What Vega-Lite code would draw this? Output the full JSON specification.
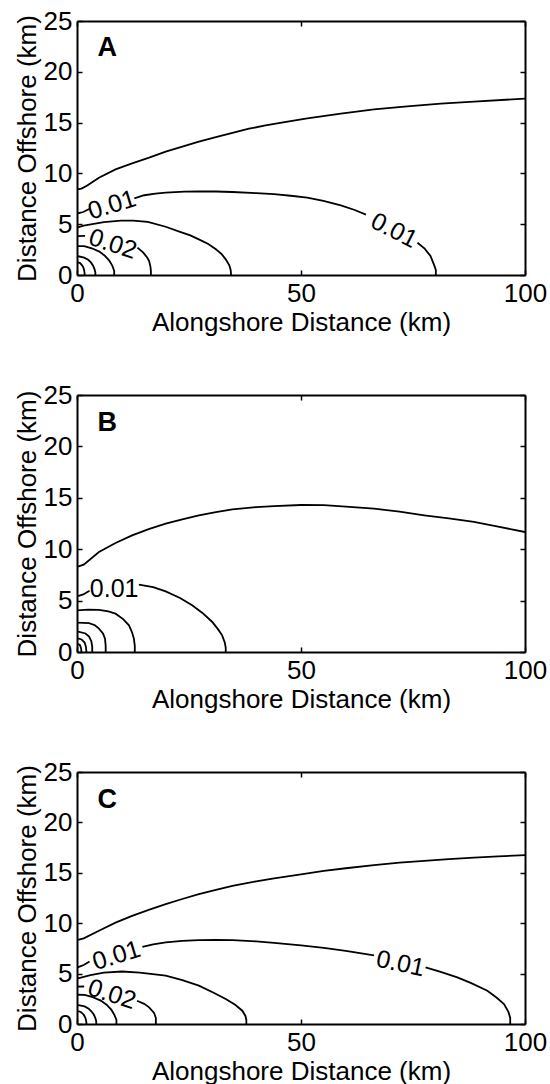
{
  "$schema": "https://vega.github.io/schema/vega-lite/v6.json",
  "background": "white",
  "padding": {"left": 14, "top": 8, "right": 2, "bottom": 2},
  "spacing": 120,
  "bounds": "flush",
  "config": {
    "font": "Liberation Sans",
    "view": {"stroke": null},
    "axis": {
      "grid": false,
      "labelFont": "Liberation Sans",
      "labelFontSize": 26,
      "labelColor": "black",
      "labelFlush": false,
      "labelOverlap": false,
      "labelPadding": 10,
      "titleFont": "Liberation Sans",
      "titleFontSize": 26,
      "titleFontWeight": "normal",
      "titleColor": "black",
      "domainColor": "black",
      "domainWidth": 2,
      "tickColor": "black",
      "tickWidth": 1.5,
      "tickSize": -5
    }
  },
  "datasets": {
    "contours": [
      {"panel": "A", "seg": "A1", "x": 0, "y": 8.43}, {"panel": "A", "seg": "A1", "x": 1, "y": 8.5}, {"panel": "A", "seg": "A1", "x": 2.2, "y": 8.78}, {"panel": "A", "seg": "A1", "x": 4.9, "y": 9.58}, {"panel": "A", "seg": "A1", "x": 8.6, "y": 10.4}, {"panel": "A", "seg": "A1", "x": 12.3, "y": 10.99}, {"panel": "A", "seg": "A1", "x": 16.1, "y": 11.55}, {"panel": "A", "seg": "A1", "x": 19.8, "y": 12.14}, {"panel": "A", "seg": "A1", "x": 23.5, "y": 12.63}, {"panel": "A", "seg": "A1", "x": 27.2, "y": 13.12}, {"panel": "A", "seg": "A1", "x": 31, "y": 13.58}, {"panel": "A", "seg": "A1", "x": 34.7, "y": 14.0}, {"panel": "A", "seg": "A1", "x": 38.4, "y": 14.4}, {"panel": "A", "seg": "A1", "x": 42.1, "y": 14.72}, {"panel": "A", "seg": "A1", "x": 46, "y": 15.02}, {"panel": "A", "seg": "A1", "x": 51.4, "y": 15.42}, {"panel": "A", "seg": "A1", "x": 58.9, "y": 15.88}, {"panel": "A", "seg": "A1", "x": 66.3, "y": 16.3}, {"panel": "A", "seg": "A1", "x": 73.7, "y": 16.6}, {"panel": "A", "seg": "A1", "x": 81.2, "y": 16.86}, {"panel": "A", "seg": "A1", "x": 88.6, "y": 17.06}, {"panel": "A", "seg": "A1", "x": 100, "y": 17.36},
      {"panel": "A", "seg": "A2a", "x": 0, "y": 6.05}, {"panel": "A", "seg": "A2a", "x": 1.4, "y": 6.2}, {"panel": "A", "seg": "A2a", "x": 2.7, "y": 6.5},
      {"panel": "A", "seg": "A2b", "x": 12.8, "y": 7.55}, {"panel": "A", "seg": "A2b", "x": 15, "y": 7.85}, {"panel": "A", "seg": "A2b", "x": 17.5, "y": 8.0}, {"panel": "A", "seg": "A2b", "x": 19.8, "y": 8.1}, {"panel": "A", "seg": "A2b", "x": 24, "y": 8.2}, {"panel": "A", "seg": "A2b", "x": 27.2, "y": 8.22}, {"panel": "A", "seg": "A2b", "x": 31, "y": 8.22}, {"panel": "A", "seg": "A2b", "x": 34.7, "y": 8.17}, {"panel": "A", "seg": "A2b", "x": 40, "y": 8.05}, {"panel": "A", "seg": "A2b", "x": 44, "y": 7.97}, {"panel": "A", "seg": "A2b", "x": 47.7, "y": 7.8}, {"panel": "A", "seg": "A2b", "x": 51.4, "y": 7.61}, {"panel": "A", "seg": "A2b", "x": 55, "y": 7.3}, {"panel": "A", "seg": "A2b", "x": 58.9, "y": 6.86}, {"panel": "A", "seg": "A2b", "x": 62, "y": 6.4}, {"panel": "A", "seg": "A2b", "x": 64.5, "y": 5.95},
      {"panel": "A", "seg": "A2c", "x": 76, "y": 3.18}, {"panel": "A", "seg": "A2c", "x": 77.6, "y": 2.6}, {"panel": "A", "seg": "A2c", "x": 78.9, "y": 1.87}, {"panel": "A", "seg": "A2c", "x": 79.7, "y": 1.0}, {"panel": "A", "seg": "A2c", "x": 80.1, "y": 0.5}, {"panel": "A", "seg": "A2c", "x": 80.1, "y": 0},
      {"panel": "A", "seg": "A3", "x": 0, "y": 4.66}, {"panel": "A", "seg": "A3", "x": 1.5, "y": 4.85}, {"panel": "A", "seg": "A3", "x": 3.1, "y": 4.99}, {"panel": "A", "seg": "A3", "x": 6, "y": 5.2}, {"panel": "A", "seg": "A3", "x": 9.8, "y": 5.36}, {"panel": "A", "seg": "A3", "x": 12.5, "y": 5.36}, {"panel": "A", "seg": "A3", "x": 15.8, "y": 5.22}, {"panel": "A", "seg": "A3", "x": 19.8, "y": 4.75}, {"panel": "A", "seg": "A3", "x": 23, "y": 4.25}, {"panel": "A", "seg": "A3", "x": 25.3, "y": 3.9}, {"panel": "A", "seg": "A3", "x": 27.2, "y": 3.51}, {"panel": "A", "seg": "A3", "x": 29.3, "y": 3.05}, {"panel": "A", "seg": "A3", "x": 31, "y": 2.53}, {"panel": "A", "seg": "A3", "x": 32.3, "y": 2.05}, {"panel": "A", "seg": "A3", "x": 33.2, "y": 1.54}, {"panel": "A", "seg": "A3", "x": 34.0, "y": 0.95}, {"panel": "A", "seg": "A3", "x": 34.3, "y": 0.5}, {"panel": "A", "seg": "A3", "x": 34.4, "y": 0},
      {"panel": "A", "seg": "A4a", "x": 0, "y": 3.82}, {"panel": "A", "seg": "A4a", "x": 1.8, "y": 3.85},
      {"panel": "A", "seg": "A4b", "x": 13.5, "y": 2.69}, {"panel": "A", "seg": "A4b", "x": 14.8, "y": 2.2}, {"panel": "A", "seg": "A4b", "x": 15.7, "y": 1.7}, {"panel": "A", "seg": "A4b", "x": 16.1, "y": 1.38}, {"panel": "A", "seg": "A4b", "x": 16.4, "y": 0.8}, {"panel": "A", "seg": "A4b", "x": 16.5, "y": 0.4}, {"panel": "A", "seg": "A4b", "x": 16.5, "y": 0},
      {"panel": "A", "seg": "A5", "x": 0, "y": 2.85}, {"panel": "A", "seg": "A5", "x": 1.6, "y": 2.85}, {"panel": "A", "seg": "A5", "x": 3.3, "y": 2.63}, {"panel": "A", "seg": "A5", "x": 5.0, "y": 2.3}, {"panel": "A", "seg": "A5", "x": 6.2, "y": 1.9}, {"panel": "A", "seg": "A5", "x": 7.2, "y": 1.42}, {"panel": "A", "seg": "A5", "x": 7.9, "y": 0.9}, {"panel": "A", "seg": "A5", "x": 8.3, "y": 0.4}, {"panel": "A", "seg": "A5", "x": 8.3, "y": 0},
      {"panel": "A", "seg": "A6", "x": 0, "y": 1.87}, {"panel": "A", "seg": "A6", "x": 1.6, "y": 1.71}, {"panel": "A", "seg": "A6", "x": 2.5, "y": 1.5}, {"panel": "A", "seg": "A6", "x": 3.1, "y": 1.24}, {"panel": "A", "seg": "A6", "x": 3.6, "y": 0.92}, {"panel": "A", "seg": "A6", "x": 3.9, "y": 0.58}, {"panel": "A", "seg": "A6", "x": 4.1, "y": 0.25}, {"panel": "A", "seg": "A6", "x": 4.1, "y": 0},
      {"panel": "A", "seg": "A7", "x": 0, "y": 1.28}, {"panel": "A", "seg": "A7", "x": 0.7, "y": 1.17}, {"panel": "A", "seg": "A7", "x": 1.0, "y": 1.02}, {"panel": "A", "seg": "A7", "x": 1.3, "y": 0.85}, {"panel": "A", "seg": "A7", "x": 1.5, "y": 0.63}, {"panel": "A", "seg": "A7", "x": 1.62, "y": 0.4}, {"panel": "A", "seg": "A7", "x": 1.7, "y": 0.15}, {"panel": "A", "seg": "A7", "x": 1.7, "y": 0},

      {"panel": "B", "seg": "B1", "x": 0, "y": 8.27}, {"panel": "B", "seg": "B1", "x": 1.5, "y": 8.5}, {"panel": "B", "seg": "B1", "x": 4.9, "y": 9.73}, {"panel": "B", "seg": "B1", "x": 8.6, "y": 10.6}, {"panel": "B", "seg": "B1", "x": 12.3, "y": 11.35}, {"panel": "B", "seg": "B1", "x": 16, "y": 11.95}, {"panel": "B", "seg": "B1", "x": 19.8, "y": 12.48}, {"panel": "B", "seg": "B1", "x": 23.5, "y": 12.9}, {"panel": "B", "seg": "B1", "x": 27.2, "y": 13.3}, {"panel": "B", "seg": "B1", "x": 31, "y": 13.6}, {"panel": "B", "seg": "B1", "x": 34.7, "y": 13.88}, {"panel": "B", "seg": "B1", "x": 40, "y": 14.1}, {"panel": "B", "seg": "B1", "x": 44, "y": 14.2}, {"panel": "B", "seg": "B1", "x": 50, "y": 14.3}, {"panel": "B", "seg": "B1", "x": 55.1, "y": 14.28}, {"panel": "B", "seg": "B1", "x": 60, "y": 14.15}, {"panel": "B", "seg": "B1", "x": 66.3, "y": 13.94}, {"panel": "B", "seg": "B1", "x": 72, "y": 13.65}, {"panel": "B", "seg": "B1", "x": 77.5, "y": 13.3}, {"panel": "B", "seg": "B1", "x": 83, "y": 13.0}, {"panel": "B", "seg": "B1", "x": 88.6, "y": 12.65}, {"panel": "B", "seg": "B1", "x": 94, "y": 12.2}, {"panel": "B", "seg": "B1", "x": 100, "y": 11.67},
      {"panel": "B", "seg": "B2a", "x": 0, "y": 5.4}, {"panel": "B", "seg": "B2a", "x": 1.4, "y": 5.6}, {"panel": "B", "seg": "B2a", "x": 2.8, "y": 5.95},
      {"panel": "B", "seg": "B2b", "x": 13.8, "y": 6.55}, {"panel": "B", "seg": "B2b", "x": 17, "y": 6.3}, {"panel": "B", "seg": "B2b", "x": 19.8, "y": 5.9}, {"panel": "B", "seg": "B2b", "x": 23, "y": 5.25}, {"panel": "B", "seg": "B2b", "x": 25.7, "y": 4.54}, {"panel": "B", "seg": "B2b", "x": 28, "y": 3.8}, {"panel": "B", "seg": "B2b", "x": 30.2, "y": 2.92}, {"panel": "B", "seg": "B2b", "x": 31.5, "y": 2.2}, {"panel": "B", "seg": "B2b", "x": 32.4, "y": 1.62}, {"panel": "B", "seg": "B2b", "x": 33.0, "y": 0.9}, {"panel": "B", "seg": "B2b", "x": 33.2, "y": 0.4}, {"panel": "B", "seg": "B2b", "x": 33.2, "y": 0},
      {"panel": "B", "seg": "B3", "x": 0, "y": 4.05}, {"panel": "B", "seg": "B3", "x": 2.5, "y": 4.12}, {"panel": "B", "seg": "B3", "x": 4.9, "y": 4.1}, {"panel": "B", "seg": "B3", "x": 7, "y": 3.95}, {"panel": "B", "seg": "B3", "x": 8.6, "y": 3.73}, {"panel": "B", "seg": "B3", "x": 10.3, "y": 3.2}, {"panel": "B", "seg": "B3", "x": 11.6, "y": 2.6}, {"panel": "B", "seg": "B3", "x": 12.3, "y": 1.9}, {"panel": "B", "seg": "B3", "x": 12.7, "y": 1.3}, {"panel": "B", "seg": "B3", "x": 12.9, "y": 0.6}, {"panel": "B", "seg": "B3", "x": 12.9, "y": 0},
      {"panel": "B", "seg": "B4", "x": 0, "y": 2.85}, {"panel": "B", "seg": "B4", "x": 2.7, "y": 2.8}, {"panel": "B", "seg": "B4", "x": 4.0, "y": 2.6}, {"panel": "B", "seg": "B4", "x": 4.9, "y": 2.27}, {"panel": "B", "seg": "B4", "x": 5.8, "y": 1.8}, {"panel": "B", "seg": "B4", "x": 6.25, "y": 1.3}, {"panel": "B", "seg": "B4", "x": 6.4, "y": 0.6}, {"panel": "B", "seg": "B4", "x": 6.4, "y": 0},
      {"panel": "B", "seg": "B5", "x": 0, "y": 2.0}, {"panel": "B", "seg": "B5", "x": 1.9, "y": 1.8}, {"panel": "B", "seg": "B5", "x": 2.7, "y": 1.5}, {"panel": "B", "seg": "B5", "x": 3.2, "y": 1.05}, {"panel": "B", "seg": "B5", "x": 3.4, "y": 0.5}, {"panel": "B", "seg": "B5", "x": 3.4, "y": 0},
      {"panel": "B", "seg": "B6", "x": 0, "y": 1.36}, {"panel": "B", "seg": "B6", "x": 1.0, "y": 1.22}, {"panel": "B", "seg": "B6", "x": 1.7, "y": 0.92}, {"panel": "B", "seg": "B6", "x": 2.0, "y": 0.5}, {"panel": "B", "seg": "B6", "x": 2.1, "y": 0},
      {"panel": "B", "seg": "B7", "x": 0, "y": 0.8}, {"panel": "B", "seg": "B7", "x": 0.6, "y": 0.7}, {"panel": "B", "seg": "B7", "x": 0.9, "y": 0.4}, {"panel": "B", "seg": "B7", "x": 1.0, "y": 0},

      {"panel": "C", "seg": "C1", "x": 0, "y": 8.32}, {"panel": "C", "seg": "C1", "x": 1.5, "y": 8.5}, {"panel": "C", "seg": "C1", "x": 4.9, "y": 9.25}, {"panel": "C", "seg": "C1", "x": 8.6, "y": 10.05}, {"panel": "C", "seg": "C1", "x": 12.3, "y": 10.73}, {"panel": "C", "seg": "C1", "x": 16, "y": 11.33}, {"panel": "C", "seg": "C1", "x": 19.8, "y": 11.89}, {"panel": "C", "seg": "C1", "x": 23.5, "y": 12.4}, {"panel": "C", "seg": "C1", "x": 27.2, "y": 12.88}, {"panel": "C", "seg": "C1", "x": 31, "y": 13.3}, {"panel": "C", "seg": "C1", "x": 34.7, "y": 13.7}, {"panel": "C", "seg": "C1", "x": 40, "y": 14.15}, {"panel": "C", "seg": "C1", "x": 44, "y": 14.45}, {"panel": "C", "seg": "C1", "x": 50, "y": 14.85}, {"panel": "C", "seg": "C1", "x": 55.1, "y": 15.19}, {"panel": "C", "seg": "C1", "x": 60, "y": 15.45}, {"panel": "C", "seg": "C1", "x": 66.3, "y": 15.76}, {"panel": "C", "seg": "C1", "x": 72, "y": 16.0}, {"panel": "C", "seg": "C1", "x": 77.5, "y": 16.18}, {"panel": "C", "seg": "C1", "x": 83, "y": 16.35}, {"panel": "C", "seg": "C1", "x": 88.6, "y": 16.51}, {"panel": "C", "seg": "C1", "x": 94, "y": 16.63}, {"panel": "C", "seg": "C1", "x": 100, "y": 16.75},
      {"panel": "C", "seg": "C2a", "x": 0, "y": 5.6}, {"panel": "C", "seg": "C2a", "x": 1.5, "y": 5.85}, {"panel": "C", "seg": "C2a", "x": 2.8, "y": 6.2},
      {"panel": "C", "seg": "C2b", "x": 14.6, "y": 7.66}, {"panel": "C", "seg": "C2b", "x": 17, "y": 7.9}, {"panel": "C", "seg": "C2b", "x": 19.8, "y": 8.09}, {"panel": "C", "seg": "C2b", "x": 23.5, "y": 8.25}, {"panel": "C", "seg": "C2b", "x": 27.2, "y": 8.32}, {"panel": "C", "seg": "C2b", "x": 31, "y": 8.34}, {"panel": "C", "seg": "C2b", "x": 34.7, "y": 8.32}, {"panel": "C", "seg": "C2b", "x": 40, "y": 8.2}, {"panel": "C", "seg": "C2b", "x": 44, "y": 8.05}, {"panel": "C", "seg": "C2b", "x": 50, "y": 7.8}, {"panel": "C", "seg": "C2b", "x": 55.1, "y": 7.55}, {"panel": "C", "seg": "C2b", "x": 60, "y": 7.25}, {"panel": "C", "seg": "C2b", "x": 63.5, "y": 7.0}, {"panel": "C", "seg": "C2b", "x": 66.3, "y": 6.8},
      {"panel": "C", "seg": "C2c", "x": 77.8, "y": 5.61}, {"panel": "C", "seg": "C2c", "x": 81, "y": 5.2}, {"panel": "C", "seg": "C2c", "x": 84.9, "y": 4.62}, {"panel": "C", "seg": "C2c", "x": 88, "y": 4.05}, {"panel": "C", "seg": "C2c", "x": 91.6, "y": 3.3}, {"panel": "C", "seg": "C2c", "x": 93.7, "y": 2.6}, {"panel": "C", "seg": "C2c", "x": 95.3, "y": 1.98}, {"panel": "C", "seg": "C2c", "x": 96.3, "y": 1.2}, {"panel": "C", "seg": "C2c", "x": 96.7, "y": 0.6}, {"panel": "C", "seg": "C2c", "x": 96.7, "y": 0},
      {"panel": "C", "seg": "C3", "x": 0, "y": 4.5}, {"panel": "C", "seg": "C3", "x": 3, "y": 4.85}, {"panel": "C", "seg": "C3", "x": 6, "y": 5.1}, {"panel": "C", "seg": "C3", "x": 10.1, "y": 5.21}, {"panel": "C", "seg": "C3", "x": 14, "y": 5.1}, {"panel": "C", "seg": "C3", "x": 19.8, "y": 4.79}, {"panel": "C", "seg": "C3", "x": 23.5, "y": 4.35}, {"panel": "C", "seg": "C3", "x": 27.2, "y": 3.8}, {"panel": "C", "seg": "C3", "x": 30.5, "y": 3.1}, {"panel": "C", "seg": "C3", "x": 33.2, "y": 2.48}, {"panel": "C", "seg": "C3", "x": 35.3, "y": 1.9}, {"panel": "C", "seg": "C3", "x": 36.9, "y": 1.32}, {"panel": "C", "seg": "C3", "x": 37.6, "y": 0.8}, {"panel": "C", "seg": "C3", "x": 37.8, "y": 0.4}, {"panel": "C", "seg": "C3", "x": 37.8, "y": 0},
      {"panel": "C", "seg": "C4a", "x": 0, "y": 3.7}, {"panel": "C", "seg": "C4a", "x": 1.6, "y": 3.72},
      {"panel": "C", "seg": "C4b", "x": 13.4, "y": 2.31}, {"panel": "C", "seg": "C4b", "x": 15, "y": 2.0}, {"panel": "C", "seg": "C4b", "x": 16.1, "y": 1.65}, {"panel": "C", "seg": "C4b", "x": 17.2, "y": 1.1}, {"panel": "C", "seg": "C4b", "x": 17.6, "y": 0.6}, {"panel": "C", "seg": "C4b", "x": 17.6, "y": 0},
      {"panel": "C", "seg": "C5", "x": 0, "y": 2.9}, {"panel": "C", "seg": "C5", "x": 1.7, "y": 2.88}, {"panel": "C", "seg": "C5", "x": 3.5, "y": 2.66}, {"panel": "C", "seg": "C5", "x": 5.3, "y": 2.32}, {"panel": "C", "seg": "C5", "x": 6.6, "y": 1.92}, {"panel": "C", "seg": "C5", "x": 7.65, "y": 1.43}, {"panel": "C", "seg": "C5", "x": 8.35, "y": 0.9}, {"panel": "C", "seg": "C5", "x": 8.8, "y": 0.4}, {"panel": "C", "seg": "C5", "x": 8.8, "y": 0},
      {"panel": "C", "seg": "C6", "x": 0, "y": 1.9}, {"panel": "C", "seg": "C6", "x": 1.7, "y": 1.74}, {"panel": "C", "seg": "C6", "x": 2.6, "y": 1.52}, {"panel": "C", "seg": "C6", "x": 3.2, "y": 1.26}, {"panel": "C", "seg": "C6", "x": 3.75, "y": 0.94}, {"panel": "C", "seg": "C6", "x": 4.1, "y": 0.59}, {"panel": "C", "seg": "C6", "x": 4.3, "y": 0.25}, {"panel": "C", "seg": "C6", "x": 4.3, "y": 0},
      {"panel": "C", "seg": "C7", "x": 0, "y": 1.3}, {"panel": "C", "seg": "C7", "x": 0.84, "y": 1.19}, {"panel": "C", "seg": "C7", "x": 1.26, "y": 1.04}, {"panel": "C", "seg": "C7", "x": 1.58, "y": 0.86}, {"panel": "C", "seg": "C7", "x": 1.83, "y": 0.64}, {"panel": "C", "seg": "C7", "x": 2.0, "y": 0.41}, {"panel": "C", "seg": "C7", "x": 2.1, "y": 0.15}, {"panel": "C", "seg": "C7", "x": 2.1, "y": 0}
    ],
    "labels": [
      {"id": "A1", "x": 7.8, "y": 6.9, "text": "0.01"},
      {"id": "A2", "x": 70.8, "y": 4.4, "text": "0.01"},
      {"id": "A3", "x": 8.0, "y": 3.05, "text": "0.02"},
      {"id": "B1", "x": 8.3, "y": 6.15, "text": "0.01"},
      {"id": "C1", "x": 8.8, "y": 6.8, "text": "0.01"},
      {"id": "C2", "x": 72.2, "y": 6.0, "text": "0.01"},
      {"id": "C3", "x": 7.8, "y": 2.95, "text": "0.02"}
    ],
    "letters": [
      {"panel": "A", "x": 4.6, "y": 21.6, "text": "A"},
      {"panel": "B", "x": 4.6, "y": 21.5, "text": "B"},
      {"panel": "C", "x": 4.6, "y": 21.4, "text": "C"}
    ]
  },
  "vconcat": [
    {
      "width": 448,
      "height": 254,
      "resolve": {"axis": {"x": "independent", "y": "independent"}},
      "layer": [
        {
          "data": {"name": "contours"},
          "transform": [{"filter": "datum.panel == 'A'"}],
          "mark": {"type": "line", "color": "black", "strokeWidth": 1.8, "clip": true},
          "encoding": {
            "x": {"field": "x", "type": "quantitative", "scale": {"domain": [0, 100], "nice": false, "zero": false}, "axis": {"orient": "bottom", "values": [0, 50, 100], "title": "Alongshore Distance (km)", "titlePadding": 3}},
            "y": {"field": "y", "type": "quantitative", "scale": {"domain": [0, 25], "nice": false}, "axis": {"orient": "left", "values": [0, 5, 10, 15, 20, 25], "title": "Distance Offshore (km)", "titlePadding": 3}},
            "detail": {"field": "seg"},
            "order": {"value": null}
          }
        },
        {
          "data": {"name": "labels"},
          "transform": [{"filter": "datum.id == 'A1'"}],
          "mark": {"type": "text", "fontSize": 25, "angle": -17, "align": "center", "baseline": "middle", "color": "black"},
          "encoding": {"x": {"field": "x", "type": "quantitative", "axis": null}, "y": {"field": "y", "type": "quantitative", "axis": null}, "text": {"field": "text"}}
        },
        {
          "data": {"name": "labels"},
          "transform": [{"filter": "datum.id == 'A2'"}],
          "mark": {"type": "text", "fontSize": 25, "angle": 27, "align": "center", "baseline": "middle", "color": "black"},
          "encoding": {"x": {"field": "x", "type": "quantitative", "axis": null}, "y": {"field": "y", "type": "quantitative", "axis": null}, "text": {"field": "text"}}
        },
        {
          "data": {"name": "labels"},
          "transform": [{"filter": "datum.id == 'A3'"}],
          "mark": {"type": "text", "fontSize": 25, "angle": 18, "align": "center", "baseline": "middle", "color": "black"},
          "encoding": {"x": {"field": "x", "type": "quantitative", "axis": null}, "y": {"field": "y", "type": "quantitative", "axis": null}, "text": {"field": "text"}}
        },
        {
          "data": {"name": "letters"},
          "transform": [{"filter": "datum.panel == 'A'"}],
          "mark": {"type": "text", "fontSize": 27, "fontWeight": "bold", "align": "left", "baseline": "alphabetic", "color": "black"},
          "encoding": {
            "x": {"field": "x", "type": "quantitative", "axis": {"orient": "top", "values": [0, 50, 100], "labels": false, "title": null}},
            "y": {"field": "y", "type": "quantitative", "axis": {"orient": "right", "values": [0, 5, 10, 15, 20, 25], "labels": false, "title": null}},
            "text": {"field": "text"}
          }
        }
      ]
    },
    {
      "width": 448,
      "height": 257,
      "resolve": {"axis": {"x": "independent", "y": "independent"}},
      "layer": [
        {
          "data": {"name": "contours"},
          "transform": [{"filter": "datum.panel == 'B'"}],
          "mark": {"type": "line", "color": "black", "strokeWidth": 1.8, "clip": true},
          "encoding": {
            "x": {"field": "x", "type": "quantitative", "scale": {"domain": [0, 100], "nice": false, "zero": false}, "axis": {"orient": "bottom", "values": [0, 50, 100], "title": "Alongshore Distance (km)", "titlePadding": 3}},
            "y": {"field": "y", "type": "quantitative", "scale": {"domain": [0, 25], "nice": false}, "axis": {"orient": "left", "values": [0, 5, 10, 15, 20, 25], "title": "Distance Offshore (km)", "titlePadding": 3}},
            "detail": {"field": "seg"},
            "order": {"value": null}
          }
        },
        {
          "data": {"name": "labels"},
          "transform": [{"filter": "datum.id == 'B1'"}],
          "mark": {"type": "text", "fontSize": 25, "angle": 0, "align": "center", "baseline": "middle", "color": "black"},
          "encoding": {"x": {"field": "x", "type": "quantitative", "axis": null}, "y": {"field": "y", "type": "quantitative", "axis": null}, "text": {"field": "text"}}
        },
        {
          "data": {"name": "letters"},
          "transform": [{"filter": "datum.panel == 'B'"}],
          "mark": {"type": "text", "fontSize": 27, "fontWeight": "bold", "align": "left", "baseline": "alphabetic", "color": "black"},
          "encoding": {
            "x": {"field": "x", "type": "quantitative", "axis": {"orient": "top", "values": [0, 50, 100], "labels": false, "title": null}},
            "y": {"field": "y", "type": "quantitative", "axis": {"orient": "right", "values": [0, 5, 10, 15, 20, 25], "labels": false, "title": null}},
            "text": {"field": "text"}
          }
        }
      ]
    },
    {
      "width": 448,
      "height": 252,
      "resolve": {"axis": {"x": "independent", "y": "independent"}},
      "layer": [
        {
          "data": {"name": "contours"},
          "transform": [{"filter": "datum.panel == 'C'"}],
          "mark": {"type": "line", "color": "black", "strokeWidth": 1.8, "clip": true},
          "encoding": {
            "x": {"field": "x", "type": "quantitative", "scale": {"domain": [0, 100], "nice": false, "zero": false}, "axis": {"orient": "bottom", "values": [0, 50, 100], "title": "Alongshore Distance (km)", "titlePadding": 3}},
            "y": {"field": "y", "type": "quantitative", "scale": {"domain": [0, 25], "nice": false}, "axis": {"orient": "left", "values": [0, 5, 10, 15, 20, 25], "title": "Distance Offshore (km)", "titlePadding": 3}},
            "detail": {"field": "seg"},
            "order": {"value": null}
          }
        },
        {
          "data": {"name": "labels"},
          "transform": [{"filter": "datum.id == 'C1'"}],
          "mark": {"type": "text", "fontSize": 25, "angle": -17, "align": "center", "baseline": "middle", "color": "black"},
          "encoding": {"x": {"field": "x", "type": "quantitative", "axis": null}, "y": {"field": "y", "type": "quantitative", "axis": null}, "text": {"field": "text"}}
        },
        {
          "data": {"name": "labels"},
          "transform": [{"filter": "datum.id == 'C2'"}],
          "mark": {"type": "text", "fontSize": 25, "angle": 12, "align": "center", "baseline": "middle", "color": "black"},
          "encoding": {"x": {"field": "x", "type": "quantitative", "axis": null}, "y": {"field": "y", "type": "quantitative", "axis": null}, "text": {"field": "text"}}
        },
        {
          "data": {"name": "labels"},
          "transform": [{"filter": "datum.id == 'C3'"}],
          "mark": {"type": "text", "fontSize": 25, "angle": 18, "align": "center", "baseline": "middle", "color": "black"},
          "encoding": {"x": {"field": "x", "type": "quantitative", "axis": null}, "y": {"field": "y", "type": "quantitative", "axis": null}, "text": {"field": "text"}}
        },
        {
          "data": {"name": "letters"},
          "transform": [{"filter": "datum.panel == 'C'"}],
          "mark": {"type": "text", "fontSize": 27, "fontWeight": "bold", "align": "left", "baseline": "alphabetic", "color": "black"},
          "encoding": {
            "x": {"field": "x", "type": "quantitative", "axis": {"orient": "top", "values": [0, 50, 100], "labels": false, "title": null}},
            "y": {"field": "y", "type": "quantitative", "axis": {"orient": "right", "values": [0, 5, 10, 15, 20, 25], "labels": false, "title": null}},
            "text": {"field": "text"}
          }
        }
      ]
    }
  ]
}
